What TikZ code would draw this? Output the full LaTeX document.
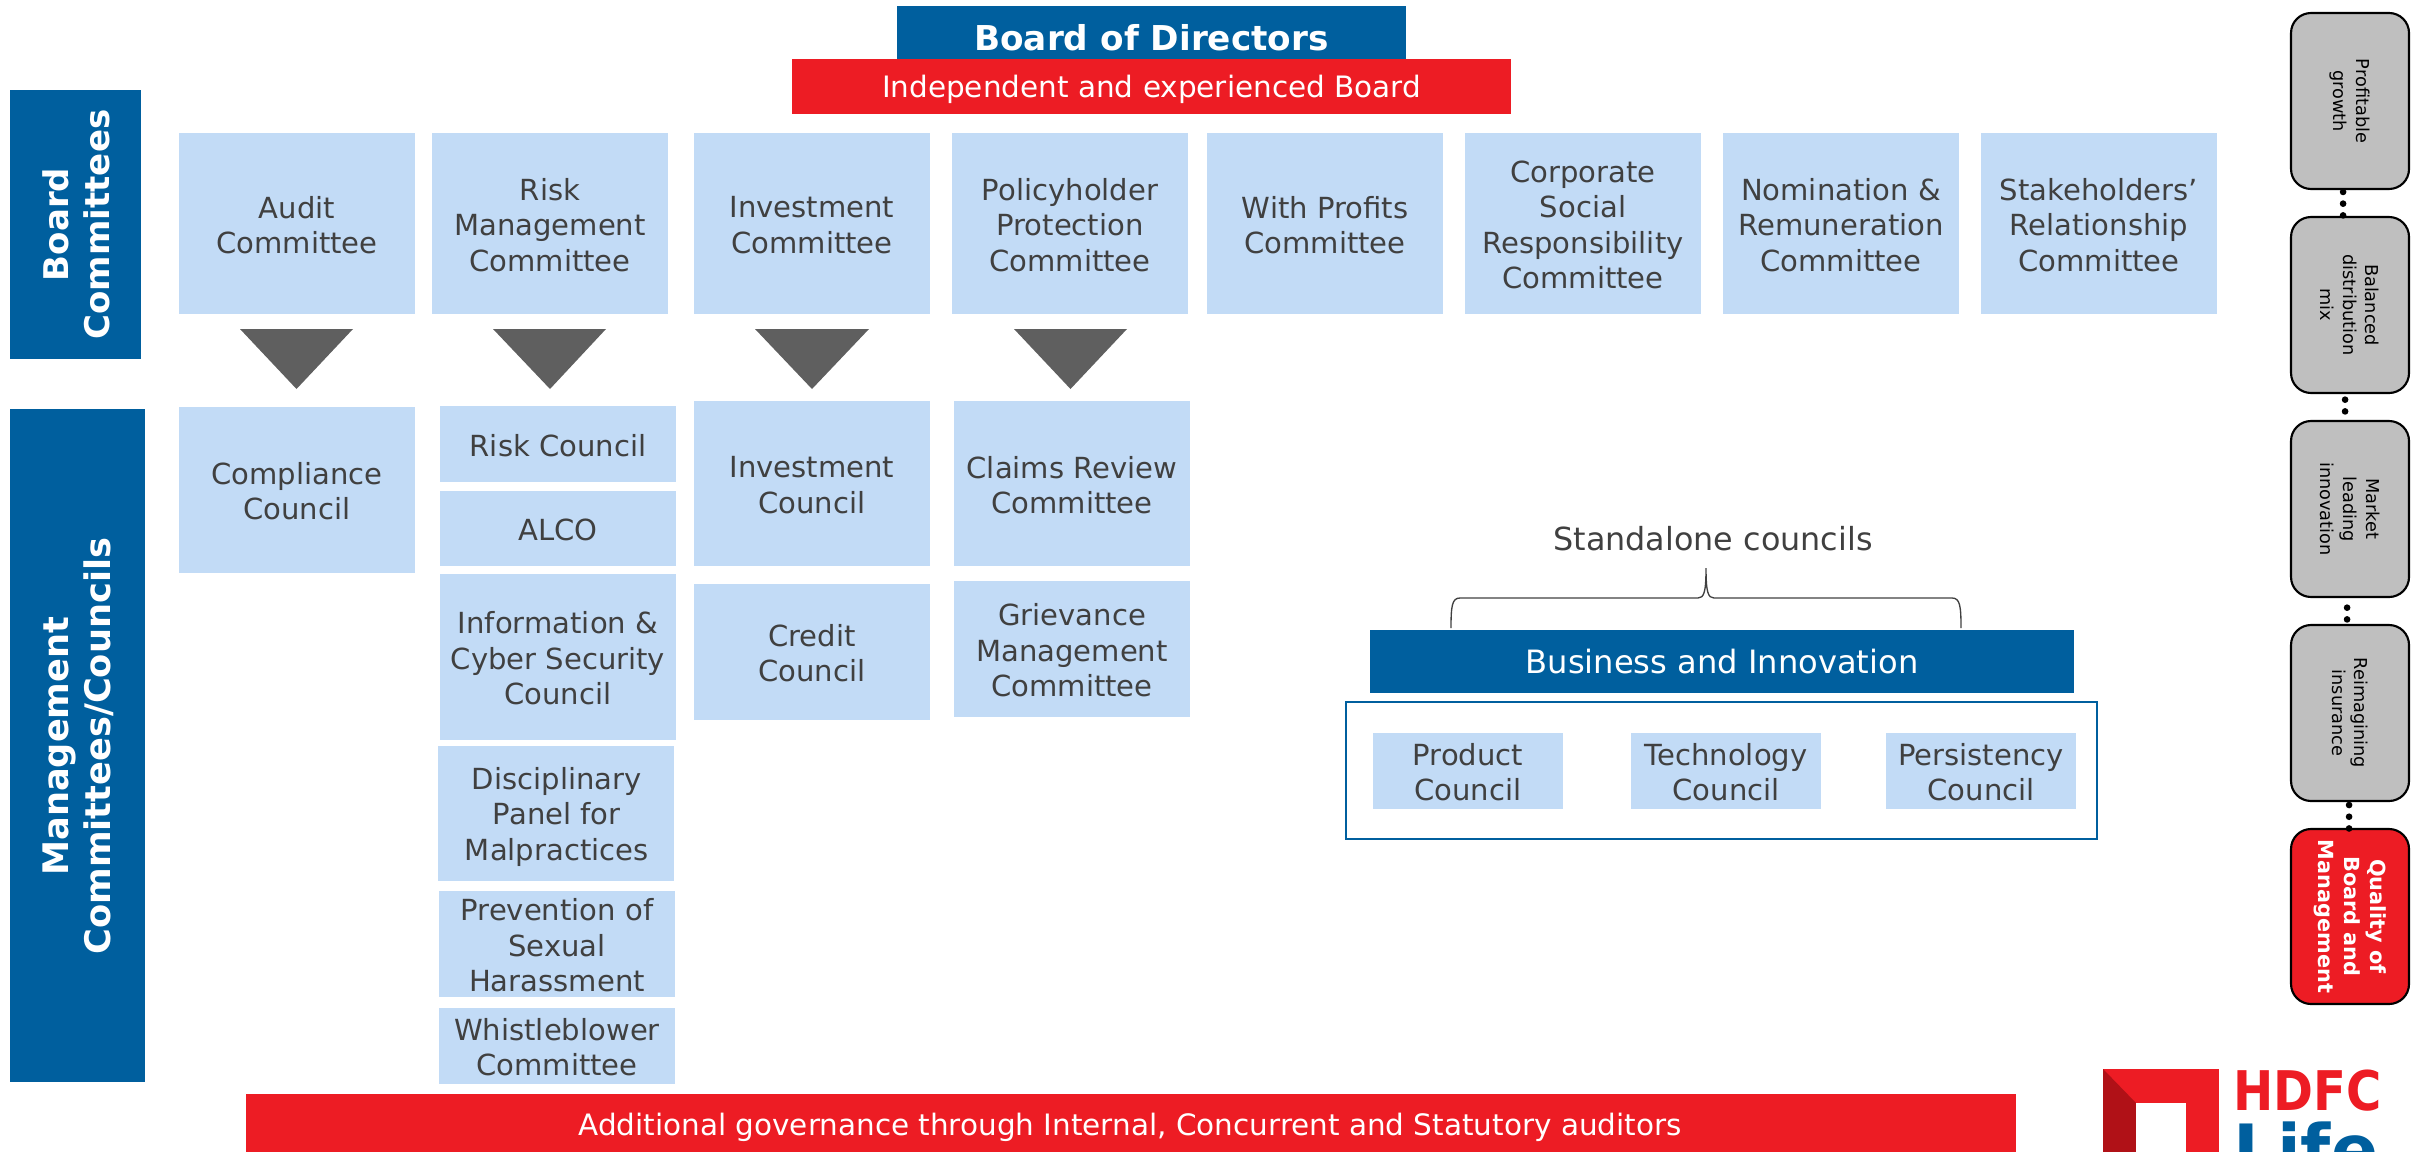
\documentclass[tikz,border=0pt]{standalone}
\usepackage{fontspec}
\setmainfont{DejaVu Sans}
\usetikzlibrary{calc}
\definecolor{hblue}{HTML}{005F9E}
\definecolor{hred}{HTML}{ED1C24}
\definecolor{hdark}{HTML}{B01117}
\definecolor{lblue}{HTML}{C2DBF6}
\definecolor{tgrey}{HTML}{404040}
\definecolor{tri}{HTML}{5F5F5F}
\definecolor{pill}{HTML}{BFBFBF}
\tikzset{
 px/.style={x=0.75pt,y=-0.75pt},
 base/.style={inner sep=0pt,outer sep=0pt,align=center,anchor=center},
 lbox/.style={base,fill=lblue},
 ltext/.style={base,text=tgrey,font=\fontsize{21.8}{26.5}\selectfont},
 bluebar/.style={base,fill=hblue},
 redbar/.style={base,fill=hred},
 whitetext/.style={base,text=white,font=\fontsize{22.1}{26}\selectfont},
 sidebar/.style={base,fill=hblue},
 sidetext/.style={base,text=white,rotate=90,font=\bfseries\fontsize{25.5}{31}\selectfont},
 pillbox/.style={base,draw=black,line width=1.6pt,rounded corners=15pt,fill=pill},
 pilltext/.style={base,rotate=-90,text=black,font=\fontsize{13.3}{17}\selectfont},
 dotlink/.style={line width=5pt,line cap=round,dash pattern=on 0pt off 8.8pt,black},
 tritip/.style={fill=tri,draw=none},
}
% name, x1, y1, x2, y2, style
\newcommand{\bx}[6]{%
 \pgfmathsetmacro{\cxx}{(#2+#4)/2}\pgfmathsetmacro{\cyy}{(#3+#5)/2}%
 \pgfmathsetmacro{\ww}{(#4-#2)*0.75}\pgfmathsetmacro{\hh}{(#5-#3)*0.75}%
 \node[#6,minimum width=\ww pt,minimum height=\hh pt] (#1) at (\cxx,\cyy) {};}
% light blue box with text
\newcommand{\lb}[6]{\bx{#1}{#2}{#3}{#4}{#5}{lbox}\node[ltext] (#1t) at ([yshift=-1.1pt]#1.center) {#6};}
\newcommand{\tridown}[3]{\fill[tritip] (#1,329) -- (#2,329) -- (#3,389) -- cycle;}
\begin{document}
\begin{tikzpicture}[px]
\useasboundingbox (0,0) rectangle (2412,1152);
\clip (0,0) rectangle (2412,1152);
% top
\bx{bod}{897}{6}{1406}{70}{bluebar}
\node[whitetext,font=\bfseries\fontsize{25.7}{30}\selectfont] (bodt) at (bod.center) {Board of Directors};
\bx{indep}{792}{59}{1511}{114}{redbar}
\node[whitetext] (indept) at ([yshift=-2pt]indep.center) {Independent and experienced Board};
% side bars
\bx{sb}{10}{90}{141}{359}{sidebar}
\node[sidetext] (sbt) at ([xshift=0.5pt]sb.center) {Board\\Committees};
\bx{sm}{10}{409}{145}{1082}{sidebar}
\node[sidetext,font=\bfseries\fontsize{26.4}{31.5}\selectfont] (smt) at ([xshift=0.8pt,yshift=-0.5pt]sm.center) {Management\\Committees/Councils};
% board committees
\lb{c1}{179}{133}{415}{314}{Audit\\Committee}
\lb{c2}{432}{133}{668}{314}{Risk\\Management\\Committee}
\lb{c3}{694}{133}{930}{314}{Investment\\Committee}
\lb{c4}{952}{133}{1188}{314}{Policyholder\\Protection\\Committee}
\lb{c5}{1207}{133}{1443}{314}{With Profits\\Committee}
\lb{c6}{1465}{133}{1701}{314}{Corporate\\Social\\Responsibility\\Committee}
\lb{c7}{1723}{133}{1959}{314}{Nomination \&\\Remuneration\\Committee}
\lb{c8}{1981}{133}{2217}{314}{Stakeholders’\\Relationship\\Committee}
% triangles
\tridown{240}{353}{296.5}
\tridown{493}{606}{550}
\tridown{755}{869}{812}
\tridown{1014}{1127}{1070.5}
% management
\lb{m1}{179}{407}{415}{573}{Compliance\\Council}
\lb{r1}{440}{406}{676}{482}{Risk Council}
\lb{r2}{440}{491}{676}{566}{ALCO}
\lb{r3}{440}{574}{676}{740}{Information \&\\Cyber Security\\Council}
\bx{r4}{438}{746}{674}{881}{lbox}
\node[ltext] (r4t) at ([xshift=0.6pt,yshift=-2.4pt]r4.center) {Disciplinary\\Panel for\\Malpractices};
\lb{r5}{439}{891}{675}{997}{Prevention of\\Sexual\\Harassment}
\lb{r6}{439}{1008}{675}{1084}{Whistleblower\\Committee}
\lb{i1}{694}{401}{930}{566}{Investment\\Council}
\lb{i2}{694}{584}{930}{720}{Credit\\Council}
\lb{p1}{954}{401}{1190}{566}{Claims Review\\Committee}
\lb{p2}{954}{581}{1190}{717}{Grievance\\Management\\Committee}
% standalone
\node[base,text=tgrey,font=\fontsize{23.85}{28}\selectfont] (sa) at (1713,539) {Standalone councils};
\coordinate (brtip) at (1706,568);
\coordinate (brl) at (1451,628);
\coordinate (brr) at (1961,628);
\draw[tgrey,line width=1pt] (brl) .. controls (1451,606) and (1452,598) .. (1460,598) -- (1698,598) .. controls (1704,598) and (1706,592) .. (brtip) .. controls (1706,592) and (1708,598) .. (1714,598) -- (1952,598) .. controls (1960,598) and (1961,606) .. (brr);
\bx{bi}{1370}{630}{2074}{693}{bluebar}
\node[whitetext,font=\fontsize{24.1}{28}\selectfont] (bit) at (bi.center) {Business and Innovation};
\bx{frame}{1346}{702}{2097}{839}{base,draw=hblue,line width=1.6pt,fill=white}
\lb{s1}{1373}{733}{1563}{809}{Product\\Council}
\lb{s2}{1631}{733}{1821}{809}{Technology\\Council}
\lb{s3}{1886}{733}{2076}{809}{Persistency\\Council}
% bottom bar
\bx{addl}{246}{1094}{2016}{1160}{redbar}
\node[whitetext] (addlt) at (1130,1127) {Additional governance through Internal, Concurrent and Statutory auditors};
% right pills
\bx{q1}{2291}{13}{2409}{189}{pillbox}
\node[pilltext] (q1t) at (q1.center) {Profitable\\growth};
\bx{q2}{2291}{217}{2409}{393}{pillbox}
\node[pilltext] (q2t) at (q2.center) {Balanced\\distribution\\mix};
\bx{q3}{2291}{421}{2409}{597}{pillbox}
\node[pilltext] (q3t) at (q3.center) {Market\\leading\\innovation};
\bx{q4}{2291}{625}{2409}{801}{pillbox}
\node[pilltext] (q4t) at (q4.center) {Reimagining\\insurance};
\bx{q5}{2291}{829}{2409}{1004}{pillbox,fill=hred}
\node[pilltext,text=white,font=\bfseries\fontsize{15.6}{19.5}\selectfont] (q5t) at (q5.center) {Quality of\\Board and\\Management};
\draw[dotlink] ([xshift=-5.2pt,yshift=-2.2pt]q1.south) -- ([xshift=-5.2pt]q2.north);
\draw[dotlink] ([xshift=-3.7pt,yshift=-5pt]q2.south) -- ([xshift=-3.7pt]q3.north);
\draw[dotlink] ([xshift=-2.2pt,yshift=-8pt]q3.south) -- ([xshift=-2.2pt]q4.north);
\draw[dotlink] ([xshift=-0.7pt,yshift=-3pt]q4.south) -- ([xshift=-0.7pt]q5.north);
% logo
\fill[hred] (2103,1069) rectangle (2219,1160);
\fill[hdark] (2103,1069) -- (2136,1103) -- (2136,1160) -- (2103,1160) -- cycle;
\fill[white] (2136,1103) rectangle (2186,1160);
\node[base,anchor=north west,text=hred,font=\bfseries\fontsize{41}{41}\selectfont,xscale=0.88] (hdfc) at (2233,1070) {HDFC};
\node[base,anchor=north west,text=hblue,font=\bfseries\fontsize{52}{52}\selectfont] (life) at (2233,1122) {Life};
\end{tikzpicture}
\end{document}
